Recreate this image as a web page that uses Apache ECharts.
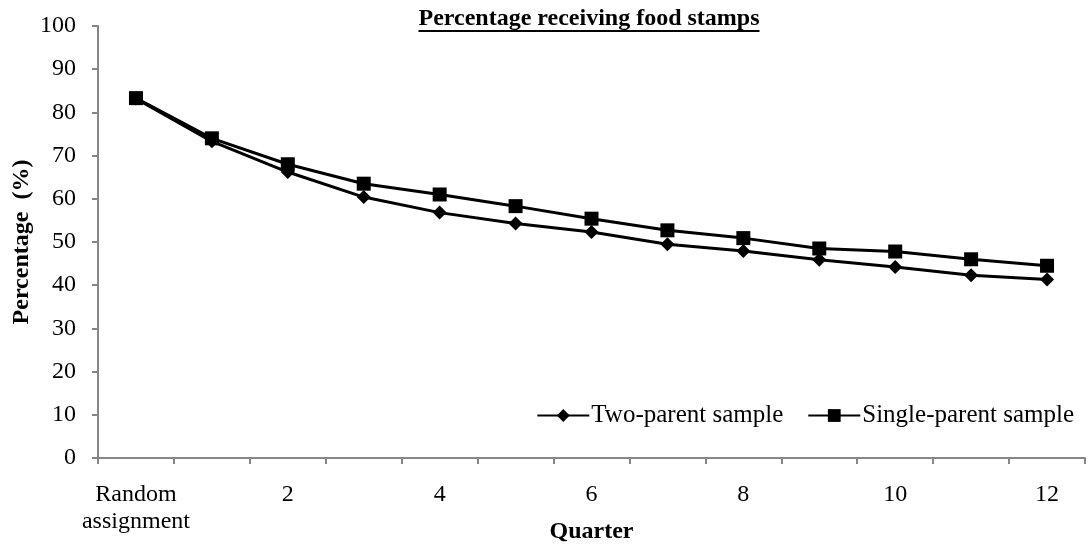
<!DOCTYPE html>
<html>
<head>
<meta charset="utf-8">
<script src="https://cdn.jsdelivr.net/npm/echarts@6/dist/echarts.min.js"></script>
<style>
html,body{margin:0;padding:0;background:#fff;}
#chart{width:1089px;height:548px;}
</style>
</head>
<body>
<div id="chart"></div>
<script>
var categories = ['Random\nassignment','1','2','3','4','5','6','7','8','9','10','11','12'];
var twoParent = [83.2, 73.3, 66.2, 60.4, 56.8, 54.3, 52.3, 49.5, 47.9, 45.9, 44.2, 42.3, 41.3];
var singleParent = [83.3, 74.0, 68.0, 63.5, 61.0, 58.3, 55.4, 52.7, 50.9, 48.5, 47.8, 46.0, 44.5];
var seriesNames = ['Two-parent sample', 'Single-parent sample'];
var titleText = 'Percentage receiving food stamps';

var FONT = '"Liberation Serif", "Times New Roman", serif';
var FS = 24;
var chart = echarts.init(document.getElementById('chart'));

// measure title width for underline
var cv = document.createElement('canvas').getContext('2d');
cv.font = 'bold ' + FS + 'px ' + FONT;
var tw = cv.measureText(titleText).width;
var titleCx = 589;

var axisColor = '#868686';
chart.setOption({
  animation: false,
  backgroundColor: '#fff',
  grid: {left: 98, right: 4, top: 26, bottom: 90, containLabel: false, outerBoundsMode: 'none'},
  graphic: [
    {type: 'text', left: titleCx - tw / 2, top: 7,
     style: {text: titleText, font: 'bold ' + FS + 'px ' + FONT, fill: '#000'}},
    {type: 'rect', left: titleCx - tw / 2, top: 30,
     shape: {width: tw, height: 2}, style: {fill: '#000'}}
  ],
  legend: {
    right: 10, top: 398,
    itemWidth: 52, itemHeight: 16, itemGap: 24,
    textStyle: {fontFamily: FONT, fontSize: 25, color: '#000', padding: [0,0,0,-3]},
    data: seriesNames
  },
  xAxis: {
    type: 'category', data: categories, boundaryGap: true,
    axisLine: {lineStyle: {color: axisColor, width: 2}},
    axisTick: {show: true, interval: 0, length: 6, lineStyle: {color: axisColor, width: 2}},
    axisLabel: {interval: 1, color: '#000', fontFamily: FONT, fontSize: FS, margin: 23, lineHeight: 27},
    name: 'Quarter', nameLocation: 'middle', nameGap: 62, nameMoveOverlap: false,
    nameTextStyle: {fontFamily: FONT, fontSize: FS, fontWeight: 'bold', color: '#000'}
  },
  yAxis: {
    type: 'value', min: 0, max: 100, interval: 10,
    splitLine: {show: false},
    axisLine: {show: true, lineStyle: {color: axisColor, width: 2}},
    axisTick: {show: true, length: 6, lineStyle: {color: axisColor, width: 2}},
    axisLabel: {color: '#000', fontFamily: FONT, fontSize: FS, margin: 22},
    name: 'Percentage  (%)', nameLocation: 'middle', nameGap: 64, nameRotate: 90, nameMoveOverlap: false,
    nameTextStyle: {fontFamily: FONT, fontSize: FS, fontWeight: 'bold', color: '#000'}
  },
  series: [
    {name: seriesNames[0], type: 'line', data: twoParent,
     symbol: 'diamond', symbolSize: 14,
     lineStyle: {color: '#000', width: 3}, itemStyle: {color: '#000'}},
    {name: seriesNames[1], type: 'line', data: singleParent,
     symbol: 'rect', symbolSize: 14,
     lineStyle: {color: '#000', width: 3}, itemStyle: {color: '#000'}}
  ]
});
</script>
</body>
</html>
